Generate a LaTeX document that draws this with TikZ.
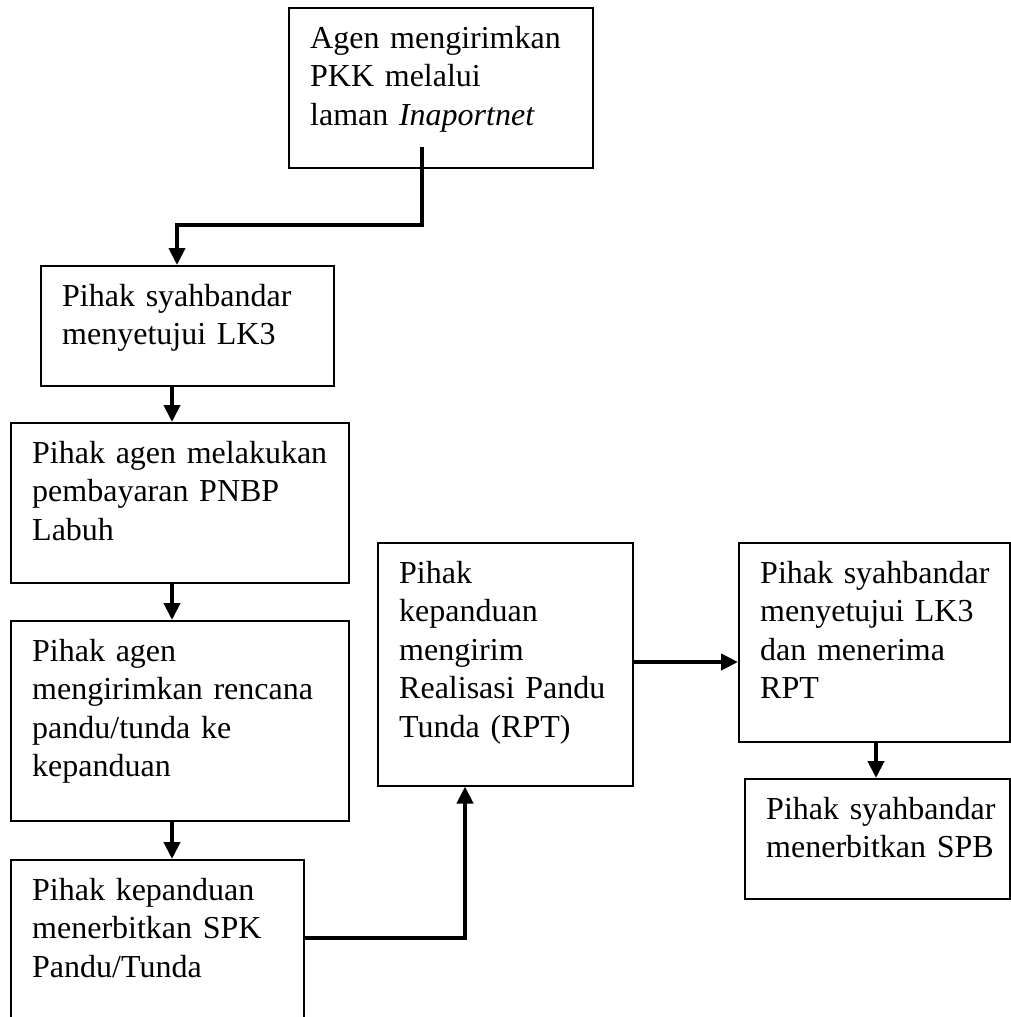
\documentclass[tikz,border=0pt]{standalone}
\usepackage{fontspec}
\setmainfont{Liberation Serif}
\usetikzlibrary{arrows.meta,positioning}

\tikzset{
  stepbox/.style={draw, line width=1.5pt, anchor=north west, inner sep=0pt},
  steptext/.style={anchor=base west, align=left, inner sep=0pt, text width=300pt,
    font=\fontsize{32}{38.5}\selectfont},
  flow/.style={line width=4pt, -{Triangle[length=17pt,width=16pt]}}
}

\begin{document}
\begin{tikzpicture}[x=1pt, y=-1pt]
  \clip (0,0) rectangle (1011,1017);

  % boxes: name/left/top/width/height
  \foreach \n/\x/\y/\w/\h in {agen/288/7/304/160, lkone/40/265/293/120,
      bayar/10/422/338/160, rencana/10/620/338/200, spk/10/859/293/200,
      rpt/377/542/255/243, lktwo/738/542/271/199, spb/744/778/265/120}
    \node[stepbox, minimum width=\w pt, minimum height=\h pt] (\n) at (\x,\y) {};

  % texts, top left in each box
  \foreach \n/\t in {agen/{Agen mengirimkan\\ PKK melalui\\ laman \textit{Inaportnet}},
      lkone/{Pihak syahbandar\\ menyetujui LK3},
      bayar/{Pihak agen melakukan\\ pembayaran PNBP\\ Labuh},
      rencana/{Pihak agen\\ mengirimkan rencana\\ pandu/tunda ke\\ kepanduan},
      spk/{Pihak kepanduan\\ menerbitkan SPK\\ Pandu/Tunda},
      rpt/{Pihak\\ kepanduan\\ mengirim\\ Realisasi Pandu\\ Tunda (RPT)},
      lktwo/{Pihak syahbandar\\ menyetujui LK3\\ dan menerima\\ RPT},
      spb/{Pihak syahbandar\\ menerbitkan SPB}}
    \node[steptext] (\n-t) at ([shift={(22,41)}]\n.north west) {\t};

  % connectors
  \coordinate (a0) at (422,147);
  \coordinate (a1) at (177,225);
  \draw[flow] (a0) |- (a1) -- (lkone.north -| a1);

  \coordinate (col) at (172,0);
  \foreach \a/\b in {lkone/bayar, bayar/rencana, rencana/spk}
    \draw[flow] (\a.south -| col) -- (\b.north -| col);

  \coordinate (a2) at (465,938);
  \draw[flow] (spk.east |- a2) -| (rpt.south -| a2);

  \coordinate (a3) at (0,662);
  \draw[flow] (rpt.east |- a3) -- (lktwo.west |- a3);

  \coordinate (a4) at (876,0);
  \draw[flow] (lktwo.south -| a4) -- (spb.north -| a4);
\end{tikzpicture}
\end{document}
